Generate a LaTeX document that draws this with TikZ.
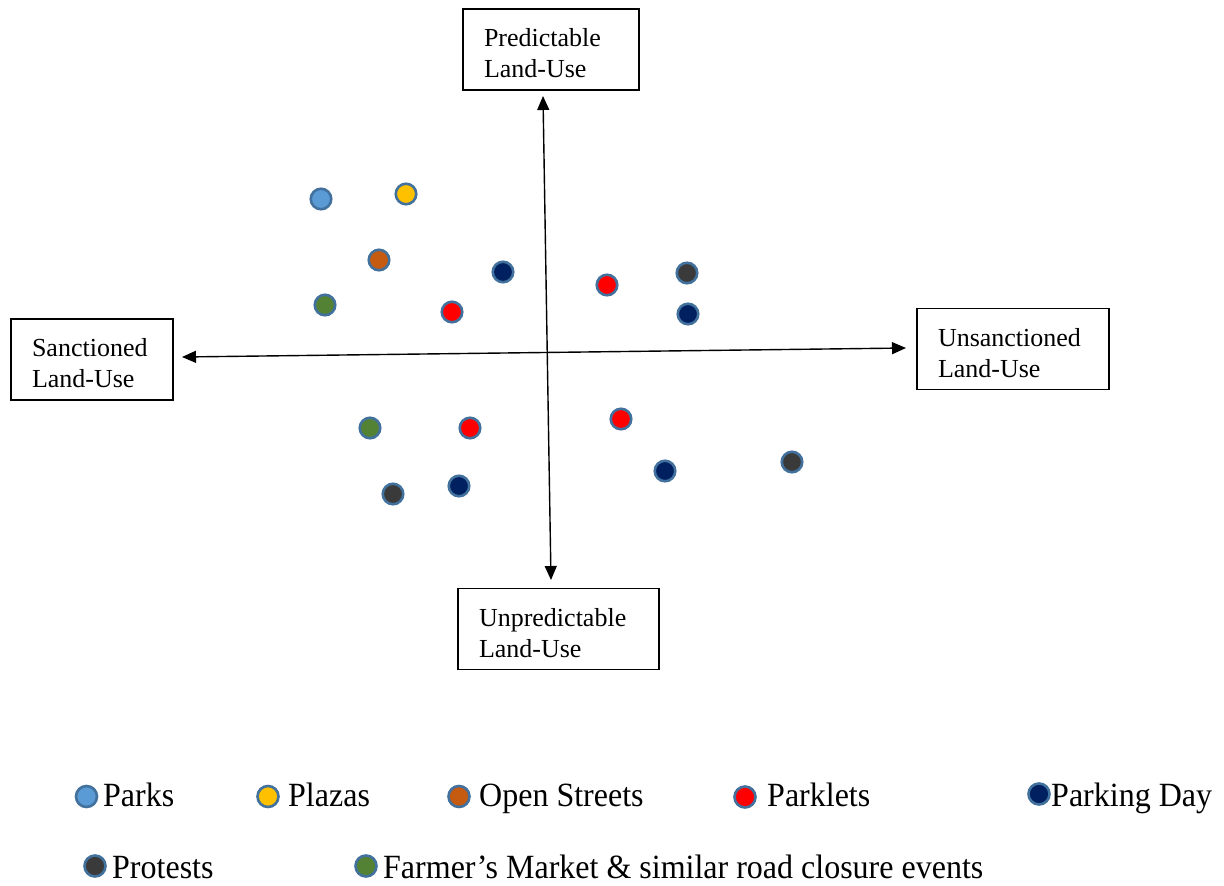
\documentclass[tikz,border=0pt]{standalone}
\usepackage{fontspec}
\setmainfont{Liberation Serif}
\usetikzlibrary{arrows.meta}
\definecolor{cParks}{HTML}{5B9BD5}
\definecolor{cPlaza}{HTML}{FFC000}
\definecolor{cOpen}{HTML}{C55A11}
\definecolor{cParklet}{HTML}{FF0000}
\definecolor{cPDay}{HTML}{002060}
\definecolor{cProt}{HTML}{3A3A3A}
\definecolor{cFarm}{HTML}{548235}
\definecolor{cRim}{HTML}{41719C}
\newcommand{\toppad}{\rule{0pt}{25.5pt}}
\tikzset{
  labelbox/.style={draw=black, line width=1.4pt, minimum height=81pt, align=left,
    inner xsep=21pt, inner ysep=0pt, font=\fontsize{26}{31}\selectfont},
  dot/.style={circle, draw=cRim, line width=2.6pt, minimum size=20.5pt, inner sep=0pt, fill=#1},
  legdot/.style={dot=#1, minimum size=21pt},
  axis/.style={line width=1.4pt, {Triangle[length=14pt,width=12pt]}-{Triangle[length=14pt,width=12pt]}},
  legtext/.style={anchor=base west, inner sep=0pt, font=\fontsize{32}{38}\selectfont, yscale=1.06}
}
\begin{document}
\begin{tikzpicture}[x=1pt,y=-1pt]
\useasboundingbox[fill=white] (0,0) rectangle (1224,886);
% boxes
\node[labelbox, text width=134pt] (pred) at (551,49.5) {\toppad Predictable\\Land-Use};
\node[labelbox, text width=120pt] (sanc) at (92,359.5) {\toppad Sanctioned\\Land-Use};
\node[labelbox, text width=150pt] (unsanc) at (1013,349) {\toppad Unsanctioned\\Land-Use};
\node[labelbox, text width=159pt] (unpred) at (558.5,629) {\toppad Unpredictable\\Land-Use};
% axes
\coordinate (vt) at (543,96);
\coordinate (vb) at (551,580);
\coordinate (hl) at (182,357);
\coordinate (hr) at (906,348);
\draw[axis] (vt) -- (vb);
\draw[axis] (hl) -- (hr);
% dots
\node[dot=cParks] (d1) at (321,199) {};
\node[dot=cPlaza] (d2) at (406,194) {};
\node[dot=cOpen] (d3) at (379,260) {};
\node[dot=cPDay] (d4) at (503,272) {};
\node[dot=cFarm] (d5) at (325,305) {};
\node[dot=cParklet] (d6) at (452,312) {};
\node[dot=cParklet] (d7) at (607,285) {};
\node[dot=cProt] (d8) at (687,273) {};
\node[dot=cPDay] (d9) at (688,314) {};
\node[dot=cFarm] (d10) at (370,428) {};
\node[dot=cParklet] (d11) at (470,428) {};
\node[dot=cParklet] (d12) at (621,419) {};
\node[dot=cPDay] (d13) at (665,471) {};
\node[dot=cProt] (d14) at (792,462) {};
\node[dot=cProt] (d15) at (393,494) {};
\node[dot=cPDay] (d16) at (459,486) {};
% legend
\node[legdot=cParks] (l1) at (86.5,796.5) {};
\node[legtext] (t1) at (103,806) {Parks};
\node[legdot=cPlaza] (l2) at (268,796.5) {};
\node[legtext] (t2) at (288,806) {Plazas};
\node[legdot=cOpen] (l3) at (459,796.5) {};
\node[legtext] (t3) at (479,806) {Open Streets};
\node[legdot=cParklet] (l4) at (745,797) {};
\node[legtext] (t4) at (767,806) {Parklets};
\node[legdot=cPDay] (l5) at (1039,794) {};
\node[legtext] (t5) at (1051,806) {Parking Day};
\node[legdot=cProt] (l6) at (95,866) {};
\node[legtext] (t6) at (112,878) {Protests};
\node[legdot=cFarm] (l7) at (366,866) {};
\node[legtext] (t7) at (383,878) {Farmer’s Market \& similar road closure events};
\end{tikzpicture}
\end{document}
